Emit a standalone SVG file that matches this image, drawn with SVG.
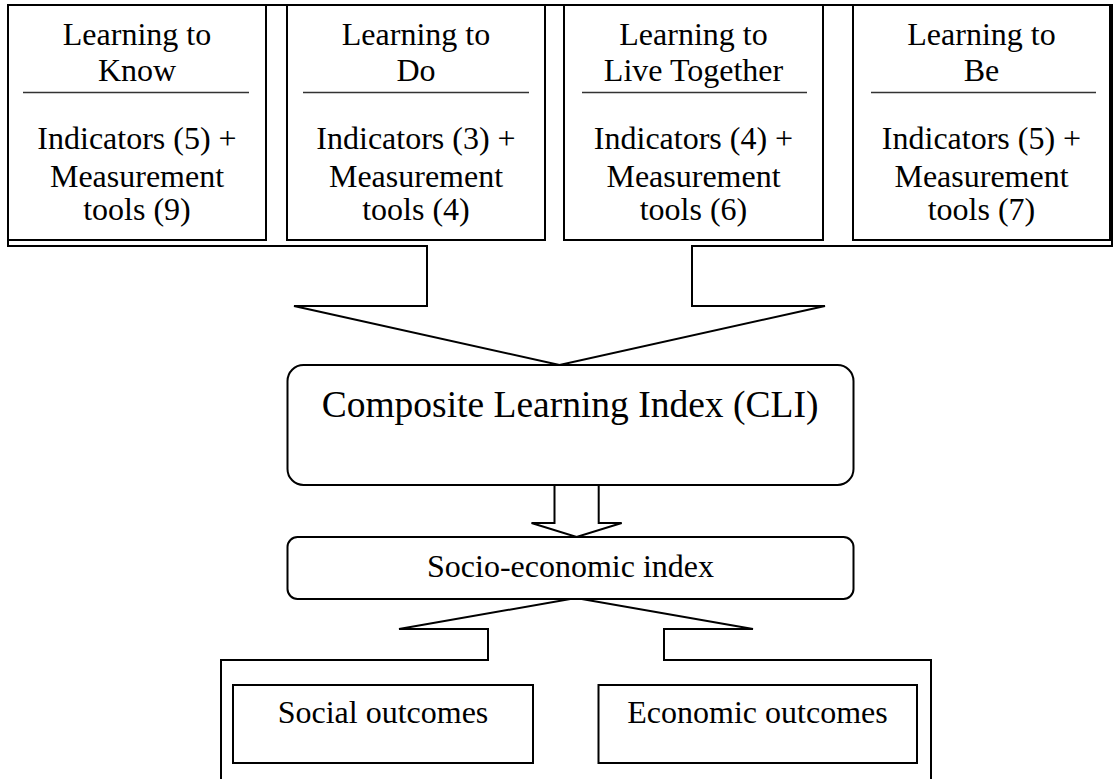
<svg xmlns="http://www.w3.org/2000/svg" width="1115" height="779" viewBox="0 0 1115 779">
<style>
.s{fill:#fff;stroke:#000;stroke-width:2;stroke-linejoin:miter}
.t{font-family:"Liberation Serif","Times New Roman",Times,serif;font-size:32px;fill:#000;text-anchor:middle}
.big{font-size:37.5px}
.div{stroke:#333;stroke-width:1.3}
</style>
<rect width="1115" height="779" fill="#fff"/>
<g id="connectors">
<polygon class="s" points="8,5 1112,5 1112,246 692,246 692,306 825,306 559.5,365 294,306 427,306 427,246 8,246"/>
<polygon class="s" points="554.5,485 598.7,485 598.7,523 621.7,523 576.6,537 531.5,523 554.5,523"/>
<polygon class="s" points="221,790 221,660 488,660 488,629 399,629 576,598 753,629 664,629 664,660 931,660 931,790"/>
</g>
<g id="know">
<rect class="s" x="8" y="5" width="258" height="235"/>
<line class="div" x1="23" y1="92.5" x2="249" y2="92.5"/>
<text class="t" x="137" y="45">Learning to</text>
<text class="t" x="137" y="81">Know</text>
<text class="t" x="137" y="149">Indicators (5) +</text>
<text class="t" x="137" y="187">Measurement</text>
<text class="t" x="137" y="220">tools (9)</text>
</g>
<g id="do">
<rect class="s" x="287" y="5" width="258" height="235"/>
<line class="div" x1="303" y1="92.5" x2="529" y2="92.5"/>
<text class="t" x="416" y="45">Learning to</text>
<text class="t" x="416" y="81">Do</text>
<text class="t" x="416" y="149">Indicators (3) +</text>
<text class="t" x="416" y="187">Measurement</text>
<text class="t" x="416" y="220">tools (4)</text>
</g>
<g id="live">
<rect class="s" x="564" y="5" width="259" height="235"/>
<line class="div" x1="582" y1="92.5" x2="807" y2="92.5"/>
<text class="t" x="693.5" y="45">Learning to</text>
<text class="t" x="693.5" y="81">Live Together</text>
<text class="t" x="693.5" y="149">Indicators (4) +</text>
<text class="t" x="693.5" y="187">Measurement</text>
<text class="t" x="693.5" y="220">tools (6)</text>
</g>
<g id="be">
<rect class="s" x="853" y="5" width="257" height="235"/>
<line class="div" x1="871" y1="92.5" x2="1096" y2="92.5"/>
<text class="t" x="981.5" y="45">Learning to</text>
<text class="t" x="981.5" y="81">Be</text>
<text class="t" x="981.5" y="149">Indicators (5) +</text>
<text class="t" x="981.5" y="187">Measurement</text>
<text class="t" x="981.5" y="220">tools (7)</text>
</g>
<g id="cli">
<rect class="s" x="287.5" y="365" width="566" height="120" rx="16" ry="16"/>
<text class="t big" x="570" y="417">Composite Learning Index (CLI)</text>
</g>
<g id="socio">
<rect class="s" x="287.5" y="537" width="566" height="62" rx="10" ry="10"/>
<text class="t" x="570.5" y="577">Socio-economic index</text>
</g>
<g id="social">
<rect class="s" x="233" y="685" width="300" height="78"/>
<text class="t" x="383" y="723">Social outcomes</text>
</g>
<g id="economic">
<rect class="s" x="598.5" y="685" width="318.5" height="78"/>
<text class="t" x="757.5" y="723">Economic outcomes</text>
</g>
</svg>
